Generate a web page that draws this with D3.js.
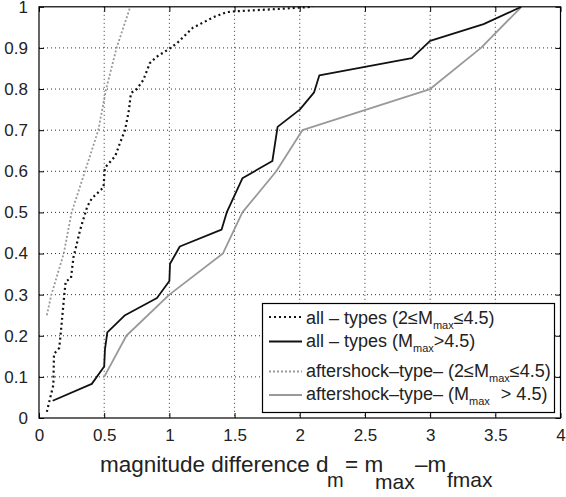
<!doctype html>
<html>
<head>
<style>
    body { margin: 0; background: #fff; }
    svg text { font-family: "Liberation Sans", Arial, sans-serif; fill: #222; }
    .grid line { stroke: #333; stroke-width: 1; stroke-dasharray: 1,3; }
    .curve { fill: none; stroke-linejoin: round; }
</style>
<script src="https://d3js.org/d3.v7.min.js"></script>
</head>
<body>
<svg width="566" height="497"></svg>
<script>

    // all - types (2 <= Mmax <= 4.5)
    var allSmallX = [0.06, 0.085, 0.11, 0.115, 0.155, 0.165, 0.195, 0.205, 0.245, 0.265, 0.285, 0.315, 0.37, 0.405, 0.495, 0.505,
                     0.585, 0.62, 0.66, 0.69, 0.705, 0.75, 0.80, 0.85, 0.90, 1.0, 1.06, 1.18, 1.34, 1.44, 1.5, 1.85, 2.0, 2.1];
    var allSmallY = [0.015, 0.048, 0.08, 0.156, 0.17, 0.2, 0.303, 0.332, 0.34, 0.392, 0.417, 0.457, 0.514, 0.534, 0.561, 0.608,
                     0.637, 0.668, 0.70, 0.749, 0.79, 0.80, 0.822, 0.863, 0.878, 0.898, 0.912, 0.949, 0.975, 0.987, 0.989, 0.995, 0.998, 1.0];

    // all - types (Mmax > 4.5)
    var allLargeX = [0.105, 0.405, 0.5, 0.506, 0.524, 0.66, 0.905, 1.0, 1.005, 1.08, 1.40, 1.44, 1.56, 1.79, 1.83, 2.0, 2.11, 2.15,
                     2.86, 3.0, 3.41, 3.70];
    var allLargeY = [0.042, 0.083, 0.125, 0.167, 0.208, 0.25, 0.292, 0.333, 0.375, 0.417, 0.458, 0.5, 0.583, 0.625, 0.708, 0.75,
                     0.792, 0.833, 0.875, 0.917, 0.958, 1.0];

    // aftershock-type (2 <= Mmax <= 4.5)
    var afterSmallX = [0.06, 0.095, 0.19, 0.25, 0.353, 0.455, 0.515, 0.595, 0.70];
    var afterSmallY = [0.25, 0.3, 0.4, 0.5, 0.6, 0.7, 0.8, 0.9, 1.0];

    // aftershock-type (Mmax > 4.5)
    var afterLargeX = [0.5, 0.67, 1.0, 1.41, 1.56, 1.82, 2.02, 3.0, 3.39, 3.7];
    var afterLargeY = [0.1, 0.2, 0.3, 0.4, 0.5, 0.6, 0.7, 0.8, 0.9, 1.0];

    var xTicks = [0, 0.5, 1, 1.5, 2, 2.5, 3, 3.5, 4];
    var yTicks = [0, 0.1, 0.2, 0.3, 0.4, 0.5, 0.6, 0.7, 0.8, 0.9, 1];

    var svg = d3.select("svg"),
        pLeft = 39, pRight = 560.5, pTop = 6.8, pBottom = 418;

    var xScale = d3.scaleLinear().domain([0, 4]).range([pLeft, pRight]),
        yScale = d3.scaleLinear().domain([0, 1]).range([pBottom, pTop]);

    // dotted grid
    var grid = svg.append("g").attr("class", "grid");
    grid.selectAll(".gx")
        .data(xTicks.slice(1, -1))
        .enter().append("line")
        .attr("x1", function(d) { return xScale(d); })
        .attr("x2", function(d) { return xScale(d); })
        .attr("y1", pTop).attr("y2", pBottom);
    grid.selectAll(".gy")
        .data(yTicks.slice(1, -1))
        .enter().append("line")
        .attr("y1", function(d) { return yScale(d); })
        .attr("y2", function(d) { return yScale(d); })
        .attr("x1", pLeft).attr("x2", pRight);

    // axes with inward ticks on all four sides
    var fmt = function(d) { return d; };
    svg.append("g")
       .attr("transform", "translate(0," + pBottom + ")")
       .call(d3.axisBottom(xScale).tickValues(xTicks).tickSizeInner(-5).tickSizeOuter(0).tickPadding(11).tickFormat(fmt));
    svg.append("g")
       .attr("transform", "translate(0," + pTop + ")")
       .call(d3.axisTop(xScale).tickValues(xTicks).tickSizeInner(-5).tickSizeOuter(0).tickFormat(""));
    svg.append("g")
       .attr("transform", "translate(" + pLeft + ",0)")
       .call(d3.axisLeft(yScale).tickValues(yTicks).tickSizeInner(-5).tickSizeOuter(0).tickPadding(11).tickFormat(fmt));
    svg.append("g")
       .attr("transform", "translate(" + pRight + ",0)")
       .call(d3.axisRight(yScale).tickValues(yTicks).tickSizeInner(-5).tickSizeOuter(0).tickFormat(""));

    svg.selectAll(".tick text").style("font-size", "17px").style("font-family", "Liberation Sans, Arial, sans-serif").attr("fill", "#222");
    svg.selectAll(".domain").remove();
    svg.selectAll(".tick line").attr("stroke", "#000");

    svg.append("rect")
       .attr("x", pLeft).attr("y", pTop)
       .attr("width", pRight - pLeft).attr("height", pBottom - pTop)
       .attr("fill", "none").attr("stroke", "#000").attr("stroke-width", 1.2);

    // curves
    var line = d3.line()
        .x(function(d) { return xScale(d[0]); })
        .y(function(d) { return yScale(d[1]); });

    var series = [
        { x: afterLargeX, y: afterLargeY, color: "#999", width: 1.8, dash: null },
        { x: afterSmallX, y: afterSmallY, color: "#999", width: 1.8, dash: "2,2" },
        { x: allLargeX,   y: allLargeY,   color: "#111", width: 1.8, dash: null },
        { x: allSmallX,   y: allSmallY,   color: "#111", width: 2.2, dash: "2,3" }
    ];

    svg.selectAll(".curve")
       .data(series)
       .enter().append("path")
       .attr("class", "curve")
       .attr("d", function(s) { return line(d3.zip(s.x, s.y)); })
       .attr("stroke", function(s) { return s.color; })
       .attr("stroke-width", function(s) { return s.width; })
       .attr("stroke-dasharray", function(s) { return s.dash; });

    // legend
    var lg = svg.append("g");
    lg.append("rect")
      .attr("x", 262.5).attr("y", 303.5).attr("width", 292).attr("height", 109)
      .attr("fill", "#fff").attr("stroke", "#000").attr("stroke-width", 1.2);

    var legendRows = [
        { s: series[3], y: 317, base: 324, pre: "all \u2013 types (2\u2264M", post: "\u22644.5)", gap: 0 },
        { s: series[2], y: 341.5, base: 347, pre: "all \u2013 types (M", post: ">4.5)", gap: 0 },
        { s: series[1], y: 371.5, base: 377, pre: "aftershock\u2013type\u2013 (2\u2264M", post: "\u22644.5)", gap: 0 },
        { s: series[0], y: 395, base: 400, pre: "aftershock\u2013type\u2013 (M", post: " > 4.5)", gap: 6 }
    ];

    legendRows.forEach(function(r) {
        lg.append("line")
          .attr("x1", 269).attr("x2", 302)
          .attr("y1", r.y).attr("y2", r.y)
          .attr("stroke", r.s.color)
          .attr("stroke-width", r.s.width)
          .attr("stroke-dasharray", r.s.dash);
        var t = lg.append("text")
          .attr("x", 306).attr("y", r.base)
          .style("font-size", "18px");
        t.append("tspan").text(r.pre);
        t.append("tspan").attr("dy", 5).style("font-size", "11px").text("max");
        t.append("tspan").attr("dy", -5).attr("dx", r.gap).text(r.post);
    });

    // x label: magnitude difference d_m = m_max - m_fmax
    var lab = svg.append("g").style("font-size", "22.5px");
    lab.append("text").attr("x", 100).attr("y", 472).text("magnitude difference d");
    lab.append("text").attr("x", 327).attr("y", 487).style("font-size", "20px").text("m");
    lab.append("text").attr("x", 345).attr("y", 472).text("= m");
    lab.append("text").attr("x", 375).attr("y", 489).style("font-size", "21px").text("max");
    lab.append("text").attr("x", 415).attr("y", 472).text("\u2013m");
    lab.append("text").attr("x", 447).attr("y", 487).style("font-size", "21px").text("fmax");

</script>
</body>
</html>
